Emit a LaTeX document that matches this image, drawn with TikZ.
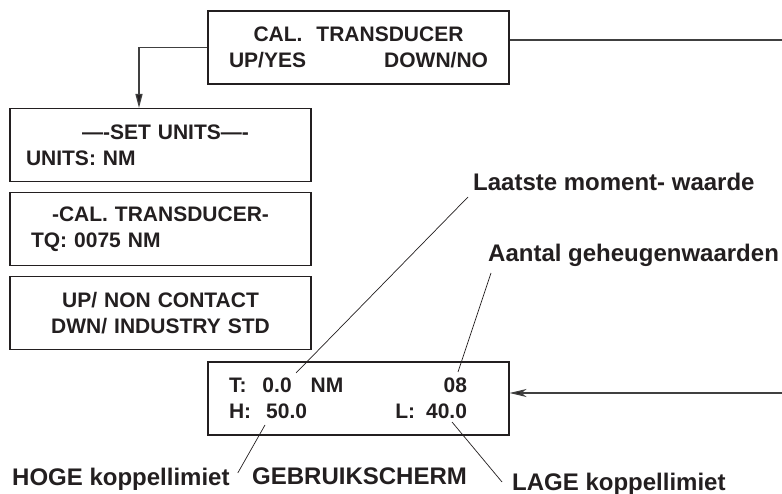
\documentclass[tikz,border=0pt]{standalone}
\usepackage{fontspec}
\setmainfont{Liberation Sans}
\usetikzlibrary{arrows.meta}
\definecolor{ink}{HTML}{231F20}
\definecolor{wire}{HTML}{404040}
\begin{document}
\begin{tikzpicture}[x=1pt,y=-1pt,
  panel/.style={draw=ink,line width=1.1pt,minimum width=301pt,minimum height=73pt,
    text width=259pt,inner xsep=21pt,inner ysep=0pt,align=center,text=ink,
    font=\fontsize{21}{26}\selectfont\bfseries},
  callout/.style={inner sep=0pt,text=ink,font=\fontsize{24}{28}\selectfont\bfseries},
  wire/.style={draw=wire,line width=1.3pt},
  leader/.style={draw=ink,line width=0.7pt}]
\useasboundingbox (0,0) rectangle (782,494);
\node[panel] (calbox) at (358.5,47.5) {CAL.\ \ TRANSDUCER\\ \makebox[259pt]{UP/YES\hfill DOWN/NO}};
\node[panel] (unitsbox) at (160.5,145) {\hspace*{10pt}—-SET UNITS—-\\ \makebox[259pt][l]{\hspace*{-5pt}UNITS: NM}};
\node[panel] (tqbox) at (160.5,229) {-CAL. TRANSDUCER-\hspace*{12pt}\\ \makebox[259pt][l]{TQ: 0075 NM}};
\node[panel] (stdbox) at (160.5,313) {UP/ NON CONTACT\\ DWN/ INDUSTRY STD};
\node[panel] (userbox) at (358.5,398.5) {\makebox[259pt][l]{\makebox[238pt][l]{T:\hspace{16pt}0.0\hspace{19pt}NM\hfill 08}}\\
  \makebox[259pt][l]{\makebox[238pt][l]{H:\hspace{15pt}50.0\hfill L:\hspace{11pt}40.0}}};
\node[callout,anchor=base west] (lastlbl) at (473,191) {Laatste moment- waarde};
\node[callout,anchor=base west] (countlbl) at (488,262) {Aantal geheugenwaarden};
\node[callout,anchor=base west] (highlbl) at (12,485) {HOGE koppellimiet};
\node[callout,anchor=base west] (screenlbl) at (252,484) {GEBRUIKSCHERM};
\node[callout,anchor=base west] (lowlbl) at (512,490) {LAGE koppellimiet};
\coordinate (tipT) at (296,373);
\coordinate (tipN) at (458,372);
\coordinate (tipH) at (265,425);
\coordinate (tipL) at (452,422);
\draw[leader] (tipT) -- ([shift={(-5,6)}]lastlbl.base west);
\draw[leader] (tipN) -- ([shift={(3,11)}]countlbl.base west);
\draw[leader] (tipH) -- ([shift={(8,-12)}]highlbl.base east);
\draw[leader] (tipL) -- ([shift={(-10,-8)}]lowlbl.base west);
\draw[wire,-{Triangle[length=14pt,width=7pt,fill=ink]}] (calbox.west) -| ([xshift=-21.5pt]unitsbox.north);
\coordinate (exitR) at (782,40);
\draw[wire] (exitR -| calbox.east) -- (exitR);
\coordinate (entryR) at (782,393);
\draw[wire,-{Stealth[length=17pt,width=8pt,inset=5pt,fill=ink]}] (entryR) -- (entryR -| userbox.east);
\end{tikzpicture}
\end{document}
